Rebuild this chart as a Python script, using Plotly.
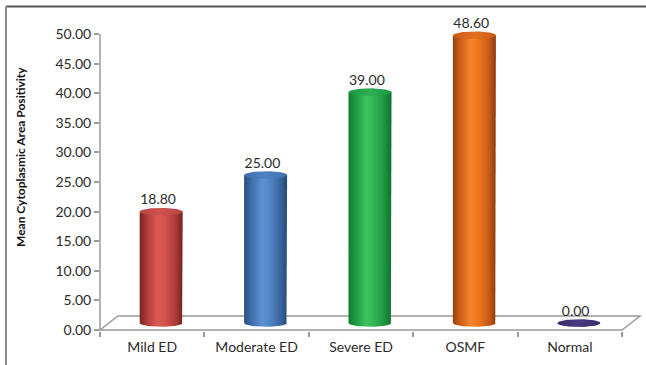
import numpy as np
import plotly.graph_objects as go

# ---- data -------------------------------------------------------------
categories = ["Mild ED", "Moderate ED", "Severe ED", "OSMF", "Normal"]
values = [18.80, 25.00, 39.00, 48.60, 0.00]
y_tick_values = [0, 5, 10, 15, 20, 25, 30, 35, 40, 45, 50]
y_tick_labels = [f"{v:.2f}" for v in y_tick_values]

# cylinder shading (left edge -> highlight -> right edge)
body_scales = [
    [[0, "#7a2321"], [0.18, "#b33d3a"], [0.42, "#dc5b57"], [0.6, "#d2504c"], [0.85, "#a83936"], [1, "#742220"]],
    [[0, "#284f80"], [0.18, "#3f6fab"], [0.42, "#5c91d2"], [0.6, "#5086c6"], [0.85, "#3a649c"], [1, "#244a78"]],
    [[0, "#117a32"], [0.18, "#1f9e45"], [0.42, "#3ec363"], [0.6, "#31b555"], [0.85, "#1b913e"], [1, "#0f712e"]],
    [[0, "#96420f"], [0.18, "#cf5f17"], [0.42, "#f7842a"], [0.6, "#ee7620"], [0.85, "#c45814"], [1, "#8c3d0e"]],
    [[0, "#2f2358"], [0.5, "#4c3c82"], [1, "#2f2358"]],
]
top_scales = [
    [[0, "#b84542"], [0.5, "#cf5450"], [1, "#b84542"]],
    [[0, "#3f6fab"], [0.5, "#4f82c2"], [1, "#3f6fab"]],
    [[0, "#1c9a42"], [0.5, "#2cae52"], [1, "#1c9a42"]],
    [[0, "#c95d17"], [0.5, "#e2701f"], [1, "#c95d17"]],
    [[0, "#3a2b6c"], [0.5, "#4a3a80"], [1, "#3a2b6c"]],
]

# ---- geometry of the chart frame ---------------------------------------
W, H = 646, 365
PLOT_L, PLOT_R, PLOT_T, PLOT_B = 100, 640, 10, 331
PX_PER_Y = 5.92          # pixels per value unit
PX_PER_X = 104.4         # pixels per category slot
Y_MIN = -(PLOT_B - 330) / PX_PER_Y
Y_MAX = Y_MIN + (PLOT_B - PLOT_T) / PX_PER_Y
X_MAX = (PLOT_R - PLOT_L) / PX_PER_X

DEPTH_X = 18 / PX_PER_X   # depth offset of the back wall
DEPTH_Y = 14 / PX_PER_Y
RADIUS = 21.5 / PX_PER_X  # cylinder half-width
ELL = 3.8 / PX_PER_Y      # ellipse half-height

GRAY = "#9a9a9a"
TEXT = "#2b2b2b"
FONT = "Lato"


def px(x):
    return x / X_MAX


def py(v):
    return (v - Y_MIN) / (Y_MAX - Y_MIN)


fig = go.Figure()

theta_half = np.linspace(0, np.pi, 40)
theta_full = np.linspace(0, 2 * np.pi, 80)

label_x, label_y, label_text = [], [], []
for i, (cat, val) in enumerate(zip(categories, values)):
    xc = i + 0.5 + DEPTH_X / 2
    base = DEPTH_Y / 2
    top = val + DEPTH_Y / 2

    bx = [xc - RADIUS, xc - RADIUS, xc + RADIUS] + list(xc + RADIUS * np.cos(theta_half))
    by = [base, top, top] + list(base - ELL * np.sin(theta_half))
    fig.add_trace(go.Scatter(
        x=bx, y=by, mode="lines", fill="toself", line=dict(width=0),
        fillgradient=dict(type="horizontal", colorscale=body_scales[i]),
        hoverinfo="skip", showlegend=False,
    ))

    tx = xc + RADIUS * np.cos(theta_full)
    ty = top + ELL * np.sin(theta_full)
    fig.add_trace(go.Scatter(
        x=tx, y=ty, mode="lines", fill="toself", line=dict(width=0),
        fillgradient=dict(type="horizontal", colorscale=top_scales[i]),
        hoverinfo="skip", showlegend=False,
    ))

    label_x.append(xc - 0.03)
    label_y.append(top + ELL)
    label_text.append(f"{val:.2f}")

fig.add_trace(go.Scatter(
    x=label_x, y=label_y, mode="text", text=label_text,
    textposition="top center", cliponaxis=False,
    textfont=dict(family=FONT, size=14, color=TEXT),
    hoverinfo="skip", showlegend=False,
))

n = len(categories)
shapes = [
    # floor of the 3-D plot area
    dict(type="path", xref="paper", yref="paper",
         path=(f"M{px(0)},{py(0)} L{px(n)},{py(0)} "
               f"L{px(n + DEPTH_X)},{py(DEPTH_Y)} L{px(DEPTH_X)},{py(DEPTH_Y)} Z"),
         line=dict(color=GRAY, width=1.5), layer="below"),
    # value axis line
    dict(type="line", xref="paper", yref="paper",
         x0=0, x1=0, y0=py(0), y1=py(y_tick_values[-1]),
         line=dict(color=GRAY, width=1.5)),
    # outer frame
    dict(type="line", xref="paper", yref="paper",
         x0=(6 - PLOT_L) / (PLOT_R - PLOT_L), x1=(W - PLOT_L) / (PLOT_R - PLOT_L),
         y0=(PLOT_B - 6.5) / (PLOT_B - PLOT_T), y1=(PLOT_B - 6.5) / (PLOT_B - PLOT_T),
         line=dict(color="#555555", width=2)),
    dict(type="line", xref="paper", yref="paper",
         x0=(6 - PLOT_L) / (PLOT_R - PLOT_L), x1=(6 - PLOT_L) / (PLOT_R - PLOT_L),
         y0=(PLOT_B - 6.5) / (PLOT_B - PLOT_T), y1=(PLOT_B - H) / (PLOT_B - PLOT_T),
         line=dict(color="#8a8a8a", width=2)),
]

fig.update_layout(
    width=W, height=H,
    margin=dict(l=PLOT_L, r=W - PLOT_R, t=PLOT_T, b=H - PLOT_B),
    paper_bgcolor="white", plot_bgcolor="white",
    shapes=shapes,
    xaxis=dict(
        range=[0, X_MAX], showgrid=False, zeroline=False, showline=False,
        tickmode="array", tickvals=[i + 0.5 for i in range(n)], ticktext=categories,
        ticks="", ticklabelstandoff=6,
        tickfont=dict(family=FONT, size=14, color=TEXT),
        minor=dict(tickmode="array", tickvals=list(range(n + 1)), ticks="outside",
                   ticklen=5, tickcolor=GRAY, tickwidth=1.5, showgrid=False),
    ),
    yaxis=dict(
        range=[Y_MIN, Y_MAX], showgrid=False, zeroline=False, showline=False,
        tickmode="array", tickvals=y_tick_values, ticktext=y_tick_labels,
        ticks="outside", ticklen=5, tickcolor=GRAY, tickwidth=1.5,
        tickfont=dict(family=FONT, size=14, color=TEXT),
    ),
    annotations=[dict(
        text="<b>Mean Cytoplasmic Area Positivity</b>", textangle=-90,
        xref="paper", yref="paper",
        x=(20 - PLOT_L) / (PLOT_R - PLOT_L), y=(PLOT_B - 157) / (PLOT_B - PLOT_T),
        xanchor="center", yanchor="middle", showarrow=False,
        font=dict(family=FONT, size=12, color="#111111"),
    )],
)

fig.write_html("out.html")
